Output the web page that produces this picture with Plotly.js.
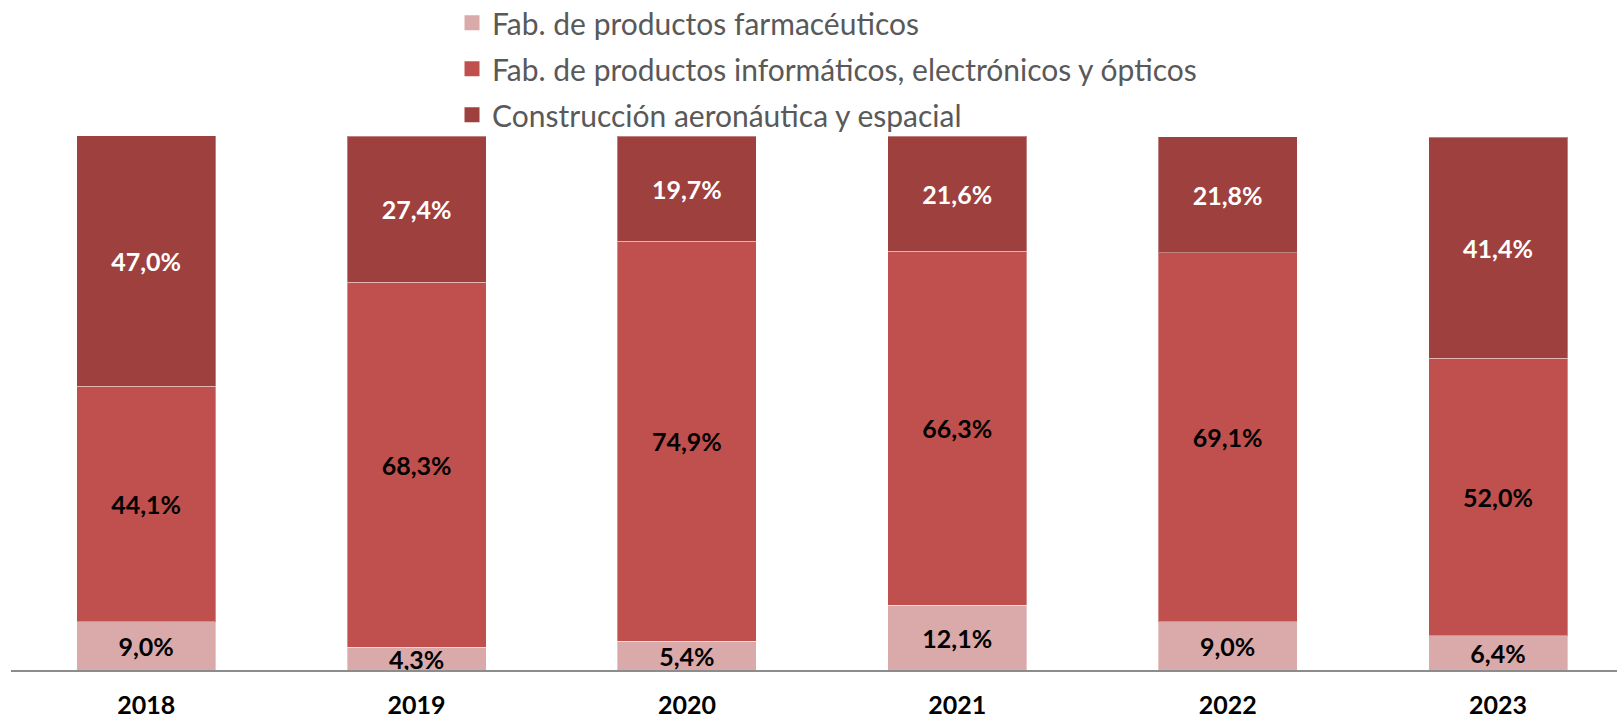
<!DOCTYPE html>
<html>
<head>
<meta charset="utf-8">
<script src="https://cdn.plot.ly/plotly-3.0.1.min.js"></script>
<style>
html,body{margin:0;padding:0;background:#fff;}
#chart{width:1617px;height:719px;}
</style>
</head>
<body>
<div id="chart"></div>
<script>
const years = ['2018', '2019', '2020', '2021', '2022', '2023'];
const seriesNames = [
  'Fab. de productos farmacéuticos',
  'Fab. de productos informáticos, electrónicos y ópticos',
  'Construcción aeronáutica y espacial'
];
const farmaceuticos = [9.0, 4.3, 5.4, 12.1, 9.0, 6.4];
const informaticos = [44.1, 68.3, 74.9, 66.3, 69.1, 52.0];
const aeronautica = [47.0, 27.4, 19.7, 21.6, 21.8, 41.4];

const colors = ['#DAA9AA', '#C0504D', '#9E403E'];
const labelColors = ['#000000', '#000000', '#FFFFFF'];
const values = [farmaceuticos, informaticos, aeronautica];
const FONT = 'Lato, "Open Sans", sans-serif';

const barTraces = values.map((vals, i) => ({
  type: 'bar',
  name: seriesNames[i],
  showlegend: false,
  x: years,
  y: vals,
  marker: {color: colors[i], line: {color: 'rgba(255,255,255,0.35)', width: 1}},
  texttemplate: '%{y:.1f}%',
  textposition: 'inside',
  insidetextanchor: 'middle',
  textangle: 0,
  constraintext: 'none',
  insidetextfont: {family: FONT, size: 25, color: labelColors[i], weight: 700},
  hoverinfo: 'skip'
}));

// legend entries (square swatches)
const legendTraces = seriesNames.map((name, i) => ({
  type: 'scatter',
  mode: 'markers',
  name: name,
  legendgroup: 'g' + i,
  x: [years[0]],
  y: [null],
  marker: {symbol: 'square', size: 15, color: colors[i]},
  hoverinfo: 'skip'
}));

const layout = {
  width: 1617,
  height: 719,
  margin: {l: 11, r: 0, t: 136, b: 49, autoexpand: false},
  paper_bgcolor: '#ffffff',
  plot_bgcolor: '#ffffff',
  barmode: 'stack',
  bargap: 0.486,
  separators: ',.',
  hovermode: false,
  showlegend: true,
  legend: {
    x: 0.2746, xanchor: 'left',
    y: 1.2606, yanchor: 'top',
    orientation: 'v',
    traceorder: 'grouped',
    tracegroupgap: 4,
    font: {family: FONT, size: 30, color: '#595959'},
    bgcolor: 'rgba(0,0,0,0)'
  },
  xaxis: {
    type: 'category',
    range: [-0.5, 5.44],
    showline: true,
    linecolor: '#8C8C8C',
    linewidth: 2,
    showgrid: false,
    zeroline: false,
    ticks: '',
    ticklabelstandoff: 12,
    tickfont: {family: FONT, size: 25, color: '#000000', weight: 700},
    fixedrange: true
  },
  yaxis: {
    range: [0, 100],
    visible: false,
    showgrid: false,
    zeroline: false,
    fixedrange: true
  }
};

Plotly.newPlot('chart', barTraces.concat(legendTraces), layout, {displayModeBar: false, staticPlot: true});
</script>
</body>
</html>
